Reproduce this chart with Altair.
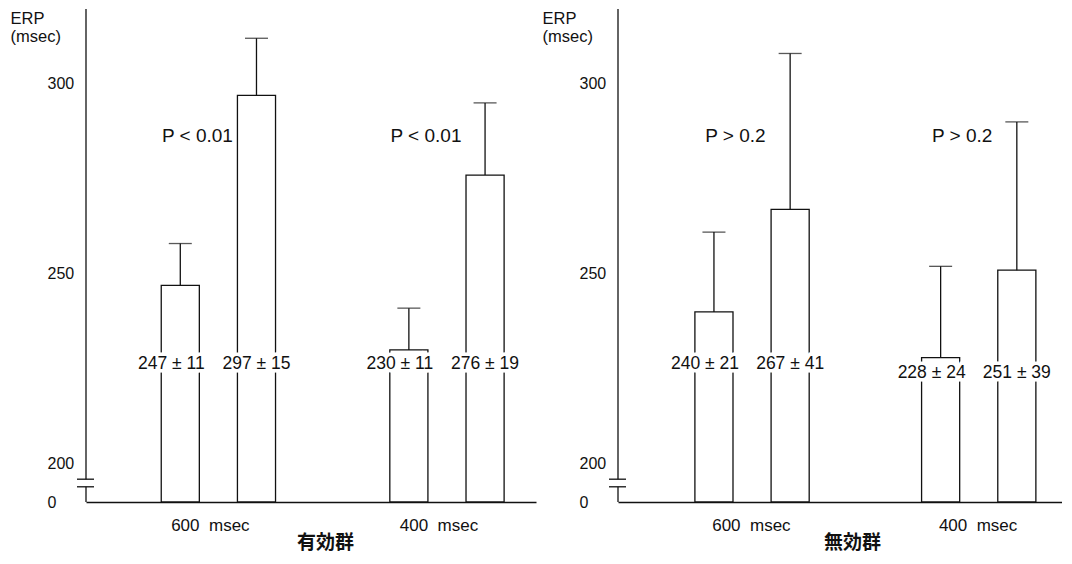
import altair as alt
import pandas as pd

# ---- data ----
stims = ["600\u00a0\u00a0msec", "400\u00a0\u00a0msec"]
conds = ["前", "後"]

eff_means = [247, 297, 230, 276]
eff_sds = [11, 15, 11, 19]
eff_p = ["P < 0.01", "P < 0.01"]

ineff_means = [240, 267, 228, 251]
ineff_sds = [21, 41, 24, 39]
ineff_p = ["P > 0.2", "P > 0.2"]

y_tick_values = [190, 200, 250, 300]   # 190 is drawn as the broken-axis "0"
y_tick_labels = ["0", "200", "250", "300"]

Y_MIN, Y_MAX = 190, 319.7
BREAK_HI, BREAK_LO = 196.0, 194.0
P_Y = 286.3
INK = "#111111"
FONT = "Liberation Sans"


def panel(means, sds, pvals, title, width, align, po, label_y, p_dx, title_x, x_label_offset):
    df = pd.DataFrame({
        "stim": [stims[i // 2] for i in range(4)],
        "cond": [conds[i % 2] for i in range(4)],
        "mean": means,
        "sd": sds,
    })
    df["top"] = df["mean"] + df["sd"]
    df["label"] = [f"{m} ± {s}" for m, s in zip(means, sds)]
    df["ly"] = [label_y[i // 2] for i in range(4)]
    df["first"] = [i % 2 == 0 for i in range(4)]
    pdf = pd.DataFrame({"stim": stims, "p": pvals})
    one = pd.DataFrame({"stim": stims[:1]})

    x_scale = alt.Scale(domain=stims, paddingInner=1 / 3, paddingOuter=po, align=align)
    xo = alt.XOffset("cond:N", scale=alt.Scale(domain=conds, paddingInner=0.5, paddingOuter=0.25))
    y_scale = alt.Scale(domain=[Y_MIN, Y_MAX], nice=False, zero=False)

    label_expr = " : ".join(
        [f"datum.value == {v} ? '{l}'" for v, l in zip(y_tick_values, y_tick_labels)]
    ) + " : datum.label"

    x_axis = alt.Axis(
        domain=True, domainColor=INK, domainWidth=1.3, ticks=False, grid=False,
        labelAngle=0, labelFontSize=17, labelFont=FONT, labelColor=INK, labelPadding=15,
        labelOffset=x_label_offset,
        title=title, titleFont="Noto Sans CJK JP", titleFontSize=19, titleFontWeight="bold",
        titleColor=INK, titleX=title_x, titleY=31, titleAlign="center", titleBaseline="top",
    )
    y_axis = alt.Axis(
        values=y_tick_values, labelExpr=label_expr, domain=False, ticks=False, grid=False,
        labelAlign="left", labelPadding=39, labelFontSize=16, labelFont=FONT, labelColor=INK,
        title=["ERP", "(msec)"], titleAngle=0, titleAlign="left", titleBaseline="top",
        titleX=-76, titleY=1, titleFontSize=16.5, titleFont=FONT, titleFontWeight="normal",
        titleColor=INK, titleLineHeight=18,
    )

    X = lambda: alt.X("stim:N", scale=x_scale, axis=x_axis)
    Y = lambda f: alt.Y(f, scale=y_scale, axis=y_axis)
    YD = lambda v: alt.YDatum(v, scale=y_scale, axis=y_axis)

    bars = alt.Chart(df).mark_bar(fill="white", stroke=INK, strokeWidth=1.3).encode(
        x=X(), xOffset=xo, y=Y("mean:Q"), y2=alt.datum(Y_MIN),
    )
    err = alt.Chart(df).mark_rule(color=INK, strokeWidth=1.3).encode(
        x=X(), xOffset=xo, y=Y("mean:Q"), y2="top:Q"
    )
    cap = alt.Chart(df).mark_tick(color=INK, orient="horizontal", size=23, thickness=1.3).encode(
        x=X(), xOffset=xo, y=Y("top:Q")
    )

    def labels(first, dx):
        sub = alt.Chart(df).transform_filter("datum.first" if first else "!datum.first")
        enc = dict(x=X(), xOffset=xo, y=Y("ly:Q"), text="label:N")
        halo = sub.mark_text(font=FONT, fontSize=17.5, dx=dx, stroke="white", strokeWidth=7,
                             fill="white").encode(**enc)
        txt = sub.mark_text(font=FONT, fontSize=17.5, dx=dx, color=INK).encode(**enc)
        return halo + txt

    ptxt = alt.Chart(pdf).mark_text(font=FONT, fontSize=19, color=INK, dx=p_dx).encode(
        x=X(), y=YD(P_Y), text="p:N"
    )

    # broken y-axis line with the break marks
    ax_top = alt.Chart(one).mark_rule(color=INK, strokeWidth=1.3).encode(
        x=alt.value(0), y=YD(Y_MAX), y2=alt.datum(BREAK_HI)
    )
    ax_bot = alt.Chart(one).mark_rule(color=INK, strokeWidth=1.3).encode(
        x=alt.value(0), y=YD(BREAK_LO), y2=alt.datum(Y_MIN)
    )
    brk1 = alt.Chart(one).mark_rule(color=INK, strokeWidth=1.3).encode(
        x=alt.value(-9), x2=alt.value(8), y=YD(BREAK_HI)
    )
    brk2 = alt.Chart(one).mark_rule(color=INK, strokeWidth=1.3).encode(
        x=alt.value(-9), x2=alt.value(8), y=YD(BREAK_LO)
    )

    return alt.layer(
        bars, err, cap, labels(True, -9), labels(False, 0), ptxt,
        ax_top, ax_bot, brk1, brk2
    ).properties(width=width, height=493)


left = panel(eff_means, eff_sds, eff_p, "有効群", 450, 0.814, 0.151,
             [226.3, 226.3], -21, 239, -8)
right = panel(ineff_means, ineff_sds, ineff_p, "無効群", 444, 0.874, 0.146,
              [226.3, 223.9], -16, 234, 0)

chart = alt.hconcat(left, right, spacing=6).properties(
    padding={"left": 2, "top": 0, "right": 0, "bottom": 0}
).configure(font=FONT).configure_view(stroke=None)

chart.save("out.html", embed_options={"renderer": "svg", "actions": False})
